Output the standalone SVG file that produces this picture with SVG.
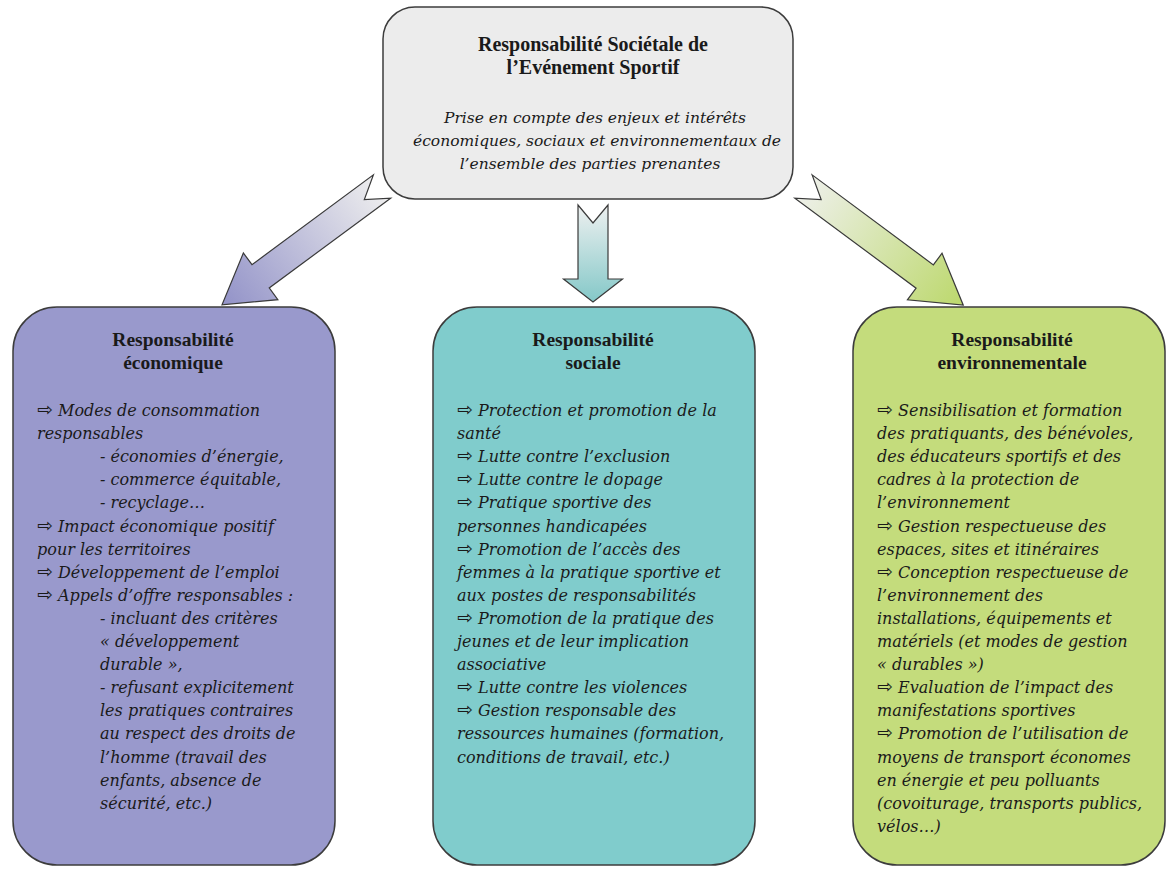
<svg xmlns="http://www.w3.org/2000/svg" width="1168" height="872" viewBox="0 0 1168 872">
  <style>
    .box { stroke: #3c3c3c; stroke-width: 1.5; }
    .arrow { stroke: #3a3a3a; stroke-width: 1.2; stroke-linejoin: miter; }
    .title { font-family: "Liberation Serif", "Times New Roman", serif; font-weight: bold; font-size: 19.5px; fill: #1a1a1a; text-anchor: middle; }
    .big { font-size: 20px; }
    .body { font-family: "DejaVu Serif", "Liberation Serif", serif; font-style: italic; font-size: 16px; fill: #1a1a1a; }
    .lead { font-size: 15.5px; text-anchor: middle; }
    .bullet { font-family: "DejaVu Sans", sans-serif; font-style: normal; font-size: 19px; }
  </style>
  <defs>
    <linearGradient id="gradEco" x1="0" y1="0" x2="1" y2="0">
      <stop offset="0" stop-color="#eeeeee"/>
      <stop offset="1" stop-color="#9292c8"/>
    </linearGradient>
    <linearGradient id="gradSoc" x1="0" y1="0" x2="1" y2="0">
      <stop offset="0" stop-color="#eef0f0"/>
      <stop offset="1" stop-color="#84c8c8"/>
    </linearGradient>
    <linearGradient id="gradEnv" x1="0" y1="0" x2="1" y2="0">
      <stop offset="0" stop-color="#eef0ea"/>
      <stop offset="1" stop-color="#bcd86c"/>
    </linearGradient>
  </defs>

  <rect width="1168" height="872" fill="#ffffff"/>

  <!-- block arrows from the central box to the three pillars -->
  <g id="connectors">
    <path class="arrow" fill="url(#gradEco)" transform="translate(382,186.5) rotate(143.5)"
          d="M0,-14.5 L151,-14.5 L151,-29 L199,0 L151,29 L151,14.5 L0,14.5 L22,0 Z"/>
    <path class="arrow" fill="url(#gradSoc)" transform="translate(593,205) rotate(90)"
          d="M0,-15 L74,-15 L74,-29.5 L97,0 L74,29.5 L74,15 L0,15 L18,0 Z"/>
    <path class="arrow" fill="url(#gradEnv)" transform="translate(803.5,186.5) rotate(36.6)"
          d="M0,-14.5 L151,-14.5 L151,-29 L199,0 L151,29 L151,14.5 L0,14.5 L22,0 Z"/>
  </g>

  <!-- central concept -->
  <g id="rse">
    <rect class="box" x="383" y="7" width="410" height="192" rx="32" ry="32" fill="#ececec"/>
    <text class="title big" x="593" y="51">Responsabilité Sociétale de</text>
    <text class="title big" x="593" y="74">l’Evénement Sportif</text>
    <text class="body lead" x="595" y="123">Prise en compte des enjeux et intérêts</text>
    <text class="body lead" x="597" y="146">économiques, sociaux et environnementaux de</text>
    <text class="body lead" x="590" y="169">l’ensemble des parties prenantes</text>
  </g>

  <!-- economic pillar -->
  <g id="economique">
    <rect class="box" x="13" y="307" width="322" height="558" rx="44" ry="44" fill="#9999cc"/>
    <text class="title" x="173" y="346">Responsabilité</text>
    <text class="title" x="173" y="369">économique</text>
    <text class="body">
      <tspan x="37" y="416"><tspan class="bullet">⇨</tspan> Modes de consommation</tspan>
      <tspan x="37" y="439.1">responsables</tspan>
      <tspan x="100" y="462.2">- économies d’énergie,</tspan>
      <tspan x="100" y="485.3">- commerce équitable,</tspan>
      <tspan x="100" y="508.4">- recyclage…</tspan>
      <tspan x="37" y="531.5"><tspan class="bullet">⇨</tspan> Impact économique positif</tspan>
      <tspan x="37" y="554.6">pour les territoires</tspan>
      <tspan x="37" y="577.7"><tspan class="bullet">⇨</tspan> Développement de l’emploi</tspan>
      <tspan x="37" y="600.8"><tspan class="bullet">⇨</tspan> Appels d’offre responsables :</tspan>
      <tspan x="100" y="623.9">- incluant des critères</tspan>
      <tspan x="100" y="647">« développement</tspan>
      <tspan x="100" y="670.1">durable »,</tspan>
      <tspan x="100" y="693.2">- refusant explicitement</tspan>
      <tspan x="100" y="716.3">les pratiques contraires</tspan>
      <tspan x="100" y="739.4">au respect des droits de</tspan>
      <tspan x="100" y="762.5">l’homme (travail des</tspan>
      <tspan x="100" y="785.6">enfants, absence de</tspan>
      <tspan x="100" y="808.7">sécurité, etc.)</tspan>
    </text>
  </g>

  <!-- social pillar -->
  <g id="sociale">
    <rect class="box" x="433" y="307" width="322" height="558" rx="44" ry="44" fill="#80cccc"/>
    <text class="title" x="593" y="346">Responsabilité</text>
    <text class="title" x="593" y="369">sociale</text>
    <text class="body">
      <tspan x="457" y="416"><tspan class="bullet">⇨</tspan> Protection et promotion de la</tspan>
      <tspan x="457" y="439.1">santé</tspan>
      <tspan x="457" y="462.2"><tspan class="bullet">⇨</tspan> Lutte contre l’exclusion</tspan>
      <tspan x="457" y="485.3"><tspan class="bullet">⇨</tspan> Lutte contre le dopage</tspan>
      <tspan x="457" y="508.4"><tspan class="bullet">⇨</tspan> Pratique sportive des</tspan>
      <tspan x="457" y="531.5">personnes handicapées</tspan>
      <tspan x="457" y="554.6"><tspan class="bullet">⇨</tspan> Promotion de l’accès des</tspan>
      <tspan x="457" y="577.7">femmes à la pratique sportive et</tspan>
      <tspan x="457" y="600.8">aux postes de responsabilités</tspan>
      <tspan x="457" y="623.9"><tspan class="bullet">⇨</tspan> Promotion de la pratique des</tspan>
      <tspan x="457" y="647">jeunes et de leur implication</tspan>
      <tspan x="457" y="670.1">associative</tspan>
      <tspan x="457" y="693.2"><tspan class="bullet">⇨</tspan> Lutte contre les violences</tspan>
      <tspan x="457" y="716.3"><tspan class="bullet">⇨</tspan> Gestion responsable des</tspan>
      <tspan x="457" y="739.4">ressources humaines (formation,</tspan>
      <tspan x="457" y="762.5">conditions de travail, etc.)</tspan>
    </text>
  </g>

  <!-- environmental pillar -->
  <g id="environnementale">
    <rect class="box" x="853" y="307" width="312" height="558" rx="44" ry="44" fill="#c4dc7c"/>
    <text class="title" x="1012" y="346">Responsabilité</text>
    <text class="title" x="1012" y="369">environnementale</text>
    <text class="body">
      <tspan x="877" y="416"><tspan class="bullet">⇨</tspan> Sensibilisation et formation</tspan>
      <tspan x="877" y="439.1">des pratiquants, des bénévoles,</tspan>
      <tspan x="877" y="462.2">des éducateurs sportifs et des</tspan>
      <tspan x="877" y="485.3">cadres à la protection de</tspan>
      <tspan x="877" y="508.4">l’environnement</tspan>
      <tspan x="877" y="531.5"><tspan class="bullet">⇨</tspan> Gestion respectueuse des</tspan>
      <tspan x="877" y="554.6">espaces, sites et itinéraires</tspan>
      <tspan x="877" y="577.7"><tspan class="bullet">⇨</tspan> Conception respectueuse de</tspan>
      <tspan x="877" y="600.8">l’environnement des</tspan>
      <tspan x="877" y="623.9">installations, équipements et</tspan>
      <tspan x="877" y="647">matériels (et modes de gestion</tspan>
      <tspan x="877" y="670.1">« durables »)</tspan>
      <tspan x="877" y="693.2"><tspan class="bullet">⇨</tspan> Evaluation de l’impact des</tspan>
      <tspan x="877" y="716.3">manifestations sportives</tspan>
      <tspan x="877" y="739.4"><tspan class="bullet">⇨</tspan> Promotion de l’utilisation de</tspan>
      <tspan x="877" y="762.5">moyens de transport économes</tspan>
      <tspan x="877" y="785.6">en énergie et peu polluants</tspan>
      <tspan x="877" y="808.7">(covoiturage, transports publics,</tspan>
      <tspan x="877" y="831.8">vélos…)</tspan>
    </text>
  </g>
</svg>
